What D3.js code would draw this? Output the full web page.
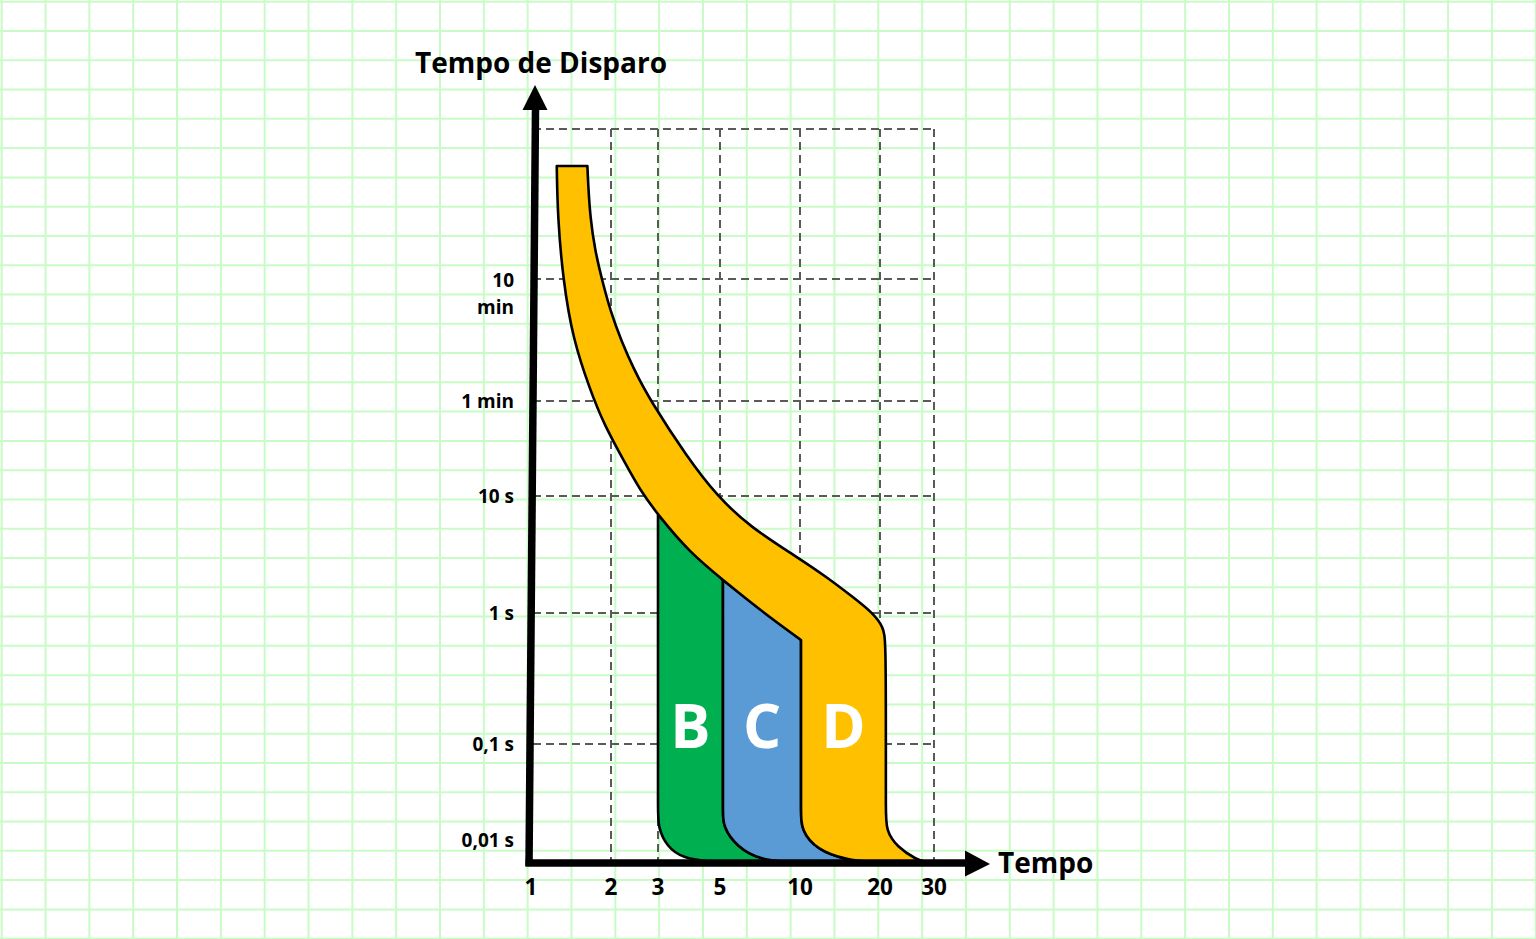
<!DOCTYPE html>
<html><head><meta charset="utf-8">
<script src="https://cdn.jsdelivr.net/npm/d3@7"></script>
<style>
html,body{margin:0;padding:0;background:#fff;overflow:hidden}
svg{display:block}
text{font-family:"Open Sans","Noto Sans",sans-serif;font-weight:700;fill:#000}
</style></head><body>
<svg id="chart" width="1536" height="939"></svg>
<script>
// ---------------- data ----------------
// x: current as multiple of In (log), y: trip time in seconds (log)
const xTicks = [1, 2, 3, 5, 10, 20, 30];
const xTickLabels = ["1", "2", "3", "5", "10", "20", "30"];
const xGridValues = [2, 3, 5, 10, 20, 30];
const yTicks = [0.01, 0.1, 1, 10, 60, 600];
const yTickLabels = ["0,01 s", "0,1 s", "1 s", "10 s", "1 min", "10\nmin"];
const yGridValues = [0.1, 1, 10, 60, 600, 7200];
const yTop = 7200, yBottom = 0.005;

// thermal band: right (upper) edge from top down to the axis, [I/In, t s]
const upperEdge = [[1.63,3900],[1.64,2943],[1.67,1676],[1.74,970],[1.85,589],[2.00,316],[2.18,190],
  [2.44,108],[2.80,61.1],[3.81,20.9],[4.88,10],[6.49,5.43],[9.74,3.01],
  [12.6,2.03],[15.8,1.37],[18.8,1.0],[20.5,0.782],[20.9,0.622],[20.9,0.1],[20.9,0.02],[20.9,0.0127],
  [22.7,0.0081],[26.4,0.0055],[28.0,0.0052]];
// thermal band: left (lower) edge from top down to where zone D starts
const lowerEdge = [[1.25,3900],[1.26,1676],[1.32,589],[1.44,190],[1.67,73.8],[1.87,39.6],
  [2.30,17.3],[2.57,11.2],[3.00,6.88],[3.91,3.26],[5.13,1.915],[7.07,1.061],[10.09,0.622]];
// magnetic trip left edges of zones B, C, D, down to the axis
const edgeB = [[3.00,6.88],[3.00,0.1],[3.00,0.02],[3.00,0.0137],[3.23,0.0081],[3.69,0.0058],[4.49,0.0052],[5.6,0.005]];
const edgeC = [[5.13,1.915],[5.13,0.1],[5.13,0.02],[5.13,0.0137],[5.80,0.0081],[7.07,0.0055],[9.2,0.0051],[11,0.005]];
const edgeD = [[10.09,0.622],[10.09,0.1],[10.09,0.02],[10.09,0.0127],[11.6,0.0074],[15.0,0.0055],[18.5,0.0051],[22,0.005]];
const zoneNames = ["B", "C", "D"];
const zoneColors = ["#00b050", "#5b9bd5", "#ffc000"];
const zoneLabelTime = 0.09;
const titleText = "Tempo de Disparo";
const xTitleText = "Tempo";

// ---------------- layout ----------------
const svg = d3.select("#chart");
const x = d3.scaleLog().domain(xTicks).range([531, 611, 658, 720, 800, 880, 934]);
const y = d3.scaleLog().domain([yBottom, ...yTicks, yTop]).range([863, 840, 744, 613, 496, 401, 279, 129]);

// background graph paper
const bg = svg.append("g").attr("stroke", "#c8fcc4").attr("stroke-width", 2);
d3.range(36).forEach(i => bg.append("line").attr("x1", 1.7 + i * 43.83).attr("x2", 1.7 + i * 43.83).attr("y1", 0).attr("y2", 939));
d3.range(33).forEach(j => bg.append("line").attr("y1", 1.7 + j * 29.28).attr("y2", 1.7 + j * 29.28).attr("x1", 0).attr("x2", 1536));

// dashed grid
const dash = svg.append("g").attr("stroke", "#5a5a5a").attr("stroke-width", 2).attr("stroke-dasharray", "8,5").attr("fill", "none");
yGridValues.forEach(v => dash.append("line").attr("x1", x(1) + 2).attr("x2", x(30)).attr("y1", y(v)).attr("y2", y(v)));
xGridValues.forEach(v => dash.append("line").attr("x1", x(v)).attr("x2", x(v)).attr("y1", y(yTop)).attr("y2", y(yBottom)));

// curves
const line = d3.line().x(d => x(d[0])).y(d => y(d[1])).curve(d3.curveBasis);
const rev = a => a.slice().reverse();
function joinPath(...segs) {
  return segs.map((s, i) => i === 0 ? line(s) : line(s).replace(/^M/, "L")).join("") + "Z";
}

const gZones = svg.append("g").attr("stroke", "#000").attr("stroke-width", 2.6).attr("stroke-linejoin", "round");
// zone B (green)
gZones.append("path").attr("fill", zoneColors[0]).attr("d", joinPath(edgeB, rev(edgeC)));
// zone C (blue)
gZones.append("path").attr("fill", zoneColors[1]).attr("d", joinPath(edgeC, rev(edgeD)));
// thermal band + zone D (yellow)
gZones.append("path").attr("fill", zoneColors[2])
  .attr("d", joinPath([lowerEdge[0], upperEdge[0]], upperEdge, rev(edgeD), rev(lowerEdge)));

// zone labels
const dRight = upperEdge.find(p => p[1] < 0.1)[0];
const zoneBounds = [[edgeB[0][0], edgeC[0][0]], [edgeC[0][0], edgeD[0][0]], [edgeD[0][0], dRight]];
zoneNames.forEach((n, i) => {
  svg.append("text").attr("x", (x(zoneBounds[i][0]) + x(zoneBounds[i][1])) / 2).attr("y", y(zoneLabelTime))
    .attr("text-anchor", "middle").style("font-size", "60px").style("fill", "#fff").text(n);
});

// axes
const ax = svg.append("g");
const yTopPx = y(yTop);
ax.append("line").attr("x1", x(1) - 2).attr("y1", y(yBottom) + 3).attr("x2", x(1) + 4.5).attr("y2", yTopPx - 20)
  .attr("stroke", "#000").attr("stroke-width", 7.5);
ax.append("path").attr("d", `M${x(1) + 4 - 12.5},${yTopPx - 19}L${x(1) + 4 + 12.5},${yTopPx - 19}L${x(1) + 4},${yTopPx - 44}Z`).attr("fill", "#000");
ax.append("line").attr("x1", x(1) - 5.5).attr("y1", y(yBottom)).attr("x2", x(30) + 33).attr("y2", y(yBottom))
  .attr("stroke", "#000").attr("stroke-width", 7.5);
ax.append("path").attr("d", `M${x(30) + 31},${y(yBottom) - 12.5}L${x(30) + 56},${y(yBottom) + 1}L${x(30) + 31},${y(yBottom) + 13.5}Z`).attr("fill", "#000");

// tick labels
xTicks.forEach((v, i) => svg.append("text").attr("x", x(v)).attr("y", y(yBottom) + 32)
  .attr("text-anchor", "middle").style("font-size", "22.5px").text(xTickLabels[i]));
yTicks.forEach((v, i) => {
  const parts = yTickLabels[i].split("\n");
  const t = svg.append("text").attr("text-anchor", "end").style("font-size", "19px");
  parts.forEach((p, k) => t.append("tspan").attr("x", x(1) - 17)
    .attr("y", y(v) + (parts.length > 1 ? 8 : 6.5) + k * 27).text(p));
});

// titles
svg.append("text").attr("x", 415).attr("y", 73).style("font-size", "28px").text(titleText);
svg.append("text").attr("x", 998).attr("y", 873).style("font-size", "28px").text(xTitleText);
</script>
</body></html>
